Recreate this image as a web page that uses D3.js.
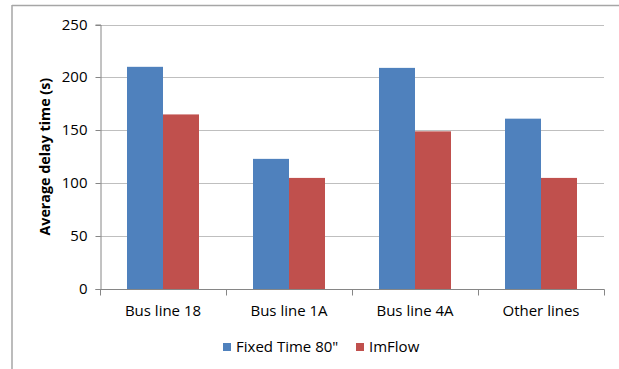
<!DOCTYPE html>
<html><head><meta charset="utf-8">
<script src="https://cdn.jsdelivr.net/npm/d3@7"></script>
<style>body{margin:0;background:#fff}svg{display:block}text{font-family:"Open Sans",sans-serif;fill:#000}</style>
</head><body>
<svg id="c" width="619" height="369"></svg>
<script>
const categories = ["Bus line 18", "Bus line 1A", "Bus line 4A", "Other lines"];
const seriesNames = ["Fixed Time 80\"", "ImFlow"];
const fixedTime = [210, 123, 209, 161];
const imFlow = [165, 105, 149, 105];
const yTicks = [0, 50, 100, 150, 200, 250];
const colors = ["#4F81BD", "#C0504D"];

const svg = d3.select("#c");
const W = 619, H = 369;
svg.append("line").attr("x1",12).attr("x2",W).attr("y1",5.5).attr("y2",5.5).attr("stroke","#a6a6a6").attr("stroke-width",1.5);
svg.append("line").attr("x1",12).attr("x2",12).attr("y1",5).attr("y2",H).attr("stroke","#a6a6a6").attr("stroke-width",1.5);

const L = 100, R = 604, T = 24.5, B = 289;
const x = d3.scaleBand().domain(categories).range([L, R]).paddingInner(0).paddingOuter(0);
const x1 = d3.scaleBand().domain([0,1]).range([0, x.bandwidth()]).paddingOuter(0.75).paddingInner(0);
const y = d3.scaleLinear().domain([0, 250]).range([B, T]);

svg.append("g").selectAll("line").data(yTicks.filter(d=>d>0)).join("line")
  .attr("x1", L).attr("x2", R).attr("y1", d=>Math.round(y(d))+0.5).attr("y2", d=>Math.round(y(d))+0.5)
  .attr("stroke", "#bfbfbf").attr("stroke-width", 1);

const data = [fixedTime, imFlow];
const g = svg.append("g");
data.forEach((vals, si) => {
  g.selectAll(null).data(vals).join("rect")
    .attr("x", (d,i) => x(categories[i]) + x1(si))
    .attr("y", d => y(d))
    .attr("width", x1.bandwidth())
    .attr("height", d => B - y(d))
    .attr("fill", colors[si]);
});

const yAxis = d3.axisLeft(y).tickValues(yTicks).tickSize(5).tickPadding(8);
const ya = svg.append("g").attr("transform", `translate(${L+0.5},0)`).call(yAxis);
ya.select(".domain").attr("stroke", "#868686");
ya.selectAll(".tick line").attr("stroke", "#868686");
ya.selectAll("text").style("font-size", "15px").attr("fill","#000");
ya.selectAll(".tick").attr("transform", d => `translate(0,${Math.round(y(d))+0.5})`);

const xa = svg.append("g").attr("transform", `translate(0,${B+0.5})`);
xa.append("line").attr("x1", L).attr("x2", R+0.5).attr("stroke", "#868686");
const bounds = categories.map(c => x(c)).concat([R]);
xa.selectAll("line.tk").data(bounds).join("line").attr("class","tk")
  .attr("x1", d=>Math.round(d)+0.5).attr("x2", d=>Math.round(d)+0.5).attr("y1",0).attr("y2",6).attr("stroke","#868686");
xa.selectAll("text").data(categories).join("text")
  .attr("x", d => x(d) + x.bandwidth()/2).attr("y", 26)
  .attr("text-anchor", "middle").style("font-size", "15px").text(d => d);

svg.append("text").attr("transform", `translate(50,${(T+B)/2}) rotate(-90)`)
  .attr("text-anchor","middle").style("font-size","14.3px").style("font-weight","bold")
  .text("Average delay time (s)");

const leg = svg.append("g");
const items = [{n: seriesNames[0], c: colors[0], x: 223}, {n: seriesNames[1], c: colors[1], x: 356}];
items.forEach(it => {
  leg.append("rect").attr("x", it.x).attr("y", 343).attr("width", 8).attr("height", 8).attr("fill", it.c);
  leg.append("text").attr("x", it.x + 13).attr("y", 352).style("font-size","15px").text(it.n);
});
</script>
</body></html>
